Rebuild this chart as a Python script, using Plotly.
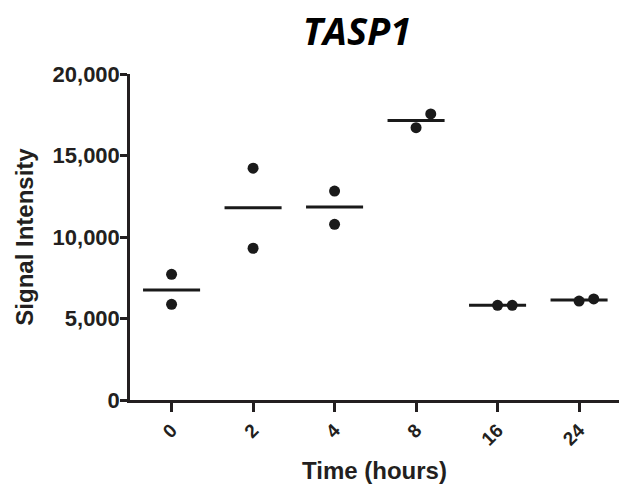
import plotly.graph_objects as go

categories = ["0", "2", "4", "8", "16", "24"]
rep1 = [7710, 14220, 12820, 16710, 5810, 6070]
rep2 = [5870, 9310, 10780, 17550, 5810, 6200]
means = [6750, 11800, 11840, 17140, 5810, 6135]
# horizontal scatter offsets (in category units) used to separate overlapping points
off1 = [0, 0, 0, 0, 0, 0]
off2 = [0, 0, 0, 0.18, 0.18, 0.18]

idx = list(range(len(categories)))
half = 0.35

fig = go.Figure()

# mean lines
lx, ly = [], []
for i, m in zip(idx, means):
    lx += [i - half, i + half, None]
    ly += [m, m, None]
fig.add_trace(go.Scatter(x=lx, y=ly, mode="lines",
                         line=dict(color="#1a1a1a", width=3), showlegend=False,
                         hoverinfo="skip"))

px = [i + o for i, o in zip(idx, off1)] + [i + o for i, o in zip(idx, off2)]
py = rep1 + rep2
fig.add_trace(go.Scatter(x=px, y=py, mode="markers",
                         marker=dict(color="#1a1a1a", size=11), showlegend=False))

fig.update_layout(
    width=619, height=489,
    margin=dict(l=130, r=0, t=74, b=89),
    paper_bgcolor="white", plot_bgcolor="white",
    font=dict(family="Liberation Sans, Arial", color="#231f20"),
    title=dict(text="<b><i>TASP1</i></b>", x=357/619, xanchor="center",
               y=1 - 32/489, yanchor="middle",
               font=dict(family="Open Sans", size=38, color="black")),
    xaxis=dict(range=[-0.51, 5.49], tickvals=idx, ticktext=categories,
               tickangle=-45, showgrid=False, zeroline=False,
               showline=True, linecolor="#231f20", linewidth=2.5,
               ticks="outside", ticklen=9, tickwidth=2.5, tickcolor="#231f20",
               tickfont=dict(size=19, family="Liberation Sans", color="#231f20",
                             weight="bold"),
               title=dict(text="Time (hours)", standoff=14,
                          font=dict(size=24, family="Liberation Sans", color="#231f20",
                                    weight="bold"))),
    yaxis=dict(range=[0, 20000], tickvals=[0, 5000, 10000, 15000, 20000],
               tickformat=",", showgrid=False, zeroline=False,
               showline=True, linecolor="#231f20", linewidth=2.5,
               ticks="outside", ticklen=7, tickwidth=2.5, tickcolor="#231f20",
               ticklabelstandoff=-4,
               tickfont=dict(size=22, family="Liberation Sans", color="#231f20",
                             weight="bold"),
               title=dict(text="Signal Intensity", standoff=13,
                          font=dict(size=24, family="Liberation Sans", color="#231f20",
                                    weight="bold"))),
)

fig.write_html("out.html")
